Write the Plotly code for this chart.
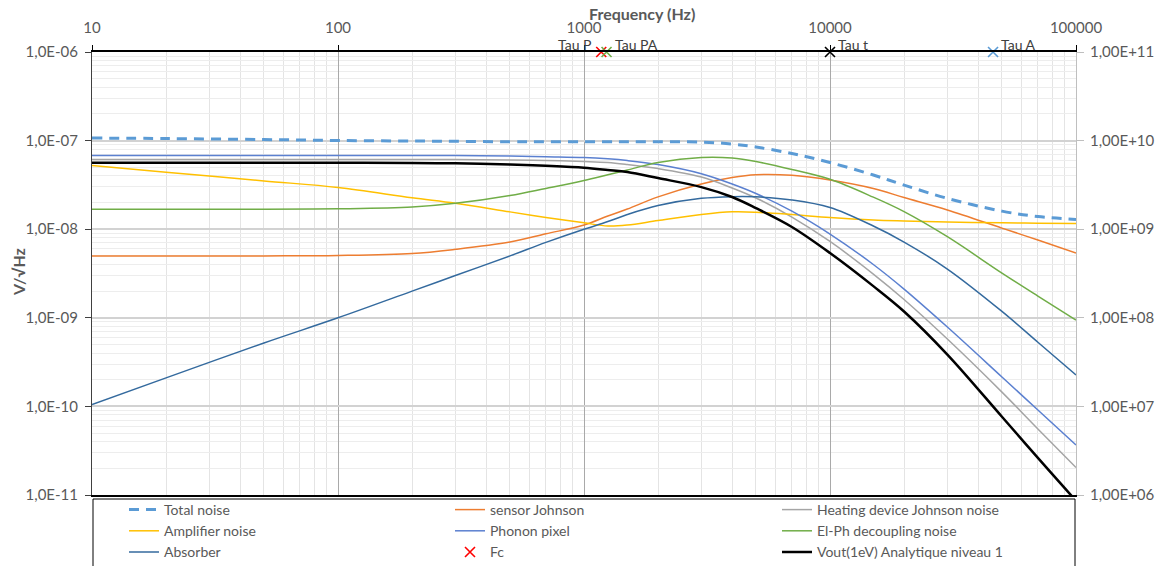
import math
import plotly.graph_objects as go

# ---------------- data ----------------
freq = [10, 20, 50, 100, 200, 300, 500, 700, 1000, 1250, 1500, 2000, 3000,
        4000, 5000, 7000, 10000, 15000, 20000, 30000, 50000, 70000, 100000]

total_noise = [1.070e-7, 1.056e-7, 1.029e-7, 1.003e-7, 9.90e-8, 9.82e-8, 9.72e-8, 9.72e-8,
               9.72e-8, 9.72e-8, 9.72e-8, 9.70e-8, 9.64e-8, 9.15e-8, 8.47e-8, 7.15e-8,
               5.66e-8, 4.09e-8, 3.15e-8, 2.23e-8, 1.60e-8, 1.39e-8, 1.29e-8]

sensor_johnson = [4.98e-9, 4.98e-9, 5.00e-9, 5.05e-9, 5.32e-9, 5.93e-9, 7.17e-9, 8.87e-9,
                  1.115e-8, 1.41e-8, 1.69e-8, 2.32e-8, 3.24e-8, 3.83e-8, 4.12e-8, 4.06e-8,
                  3.59e-8, 2.88e-8, 2.28e-8, 1.65e-8, 1.03e-8, 7.55e-9, 5.39e-9]

heating_johnson = [6.12e-8, 6.12e-8, 6.12e-8, 6.12e-8, 6.12e-8, 6.12e-8, 6.04e-8, 5.96e-8,
                   5.81e-8, 5.66e-8, 5.37e-8, 4.84e-8, 3.88e-8, 2.92e-8, 2.25e-8, 1.37e-8,
                   7.27e-9, 3.12e-9, 1.61e-9, 5.76e-10, 1.45e-10, 5.57e-11, 2.04e-11]

amplifier = [5.24e-8, 4.41e-8, 3.51e-8, 2.96e-8, 2.26e-8, 1.96e-8, 1.57e-8, 1.36e-8,
             1.18e-8, 1.087e-8, 1.115e-8, 1.254e-8, 1.465e-8, 1.57e-8, 1.556e-8, 1.465e-8,
             1.355e-8, 1.27e-8, 1.238e-8, 1.206e-8, 1.18e-8, 1.169e-8, 1.16e-8]

phonon_pixel = [6.79e-8, 6.79e-8, 6.79e-8, 6.79e-8, 6.79e-8, 6.79e-8, 6.70e-8, 6.58e-8,
                6.45e-8, 6.23e-8, 5.96e-8, 5.37e-8, 4.23e-8, 3.24e-8, 2.53e-8, 1.60e-8,
                8.83e-9, 4.00e-9, 2.11e-9, 7.87e-10, 2.15e-10, 9.11e-11, 3.67e-11]

el_ph = [1.68e-8, 1.68e-8, 1.68e-8, 1.70e-8, 1.78e-8, 1.96e-8, 2.40e-8, 2.89e-8,
         3.55e-8, 4.12e-8, 4.66e-8, 5.66e-8, 6.45e-8, 6.36e-8, 5.81e-8, 4.72e-8,
         3.66e-8, 2.30e-8, 1.58e-8, 8.23e-9, 3.20e-9, 1.76e-9, 9.44e-10]

absorber = [1.05e-10, 2.1e-10, 5.2e-10, 1.0e-9, 2.0e-9, 3.0e-9, 5.0e-9, 7.1e-9,
            1.0e-8, 1.22e-8, 1.465e-8, 1.85e-8, 2.23e-8, 2.33e-8, 2.32e-8, 2.14e-8,
            1.76e-8, 1.087e-8, 7.17e-9, 3.55e-9, 1.18e-9, 5.3e-10, 2.26e-10]

# right axis (secondary) values
vout_1ev = [5.63e9, 5.63e9, 5.63e9, 5.63e9, 5.59e9, 5.54e9, 5.37e9, 5.19e9,
            4.94e9, 4.66e9, 4.42e9, 3.78e9, 2.99e9, 2.31e9, 1.73e9, 1.06e9,
            5.39e8, 2.28e8, 1.18e8, 3.85e7, 7.65e6, 2.62e6, 8.6e5]

# characteristic frequencies (markers on the top edge)
tau_names = ["Tau P", "Tau PA", "Tau t", "Tau A"]
tau_freq = [1175, 1235, 10000, 46000]
tau_level = [1e-6, 1e-6, 1e-6, 1e-6]

x_ticks = [10, 100, 1000, 10000, 100000]
x_ticktext = ["10", "100", "1000", "10000", "100000"]
y_ticks = [1e-11, 1e-10, 1e-9, 1e-8, 1e-7, 1e-6]
y_ticktext = ["1,0E-11", "1,0E-10", "1,0E-09", "1,0E-08", "1,0E-07", "1,0E-06"]
y2_ticks = [1e6, 1e7, 1e8, 1e9, 1e10, 1e11]
y2_ticktext = ["1,00E+06", "1,00E+07", "1,00E+08", "1,00E+09", "1,00E+10", "1,00E+11"]

# ---------------- figure ----------------
FONT = "Lato, 'Open Sans', sans-serif"
fig = go.Figure()


def add_line(name, y, color, legend, width=1.5, dash=None, yaxis="y"):
    fig.add_trace(go.Scatter(
        x=freq, y=y, name=name, mode="lines", yaxis=yaxis,
        legend=legend, legendgroup=name,
        line=dict(color=color, width=width, dash=dash, shape="spline", smoothing=1.0),
    ))


add_line("Total noise", total_noise, "#5B9BD5", "legend", width=3, dash="10px,7px")
add_line("sensor Johnson", sensor_johnson, "#ED7D31", "legend2")
add_line("Heating device Johnson noise", heating_johnson, "#A5A5A5", "legend3")
add_line("Amplifier noise", amplifier, "#FFC000", "legend")
add_line("Phonon pixel", phonon_pixel, "#5B80D0", "legend2")
add_line("El-Ph decoupling noise", el_ph, "#70AD47", "legend3")
add_line("Absorber", absorber, "#346A9E", "legend")

tau_colors = ["#FF0000", "#70AD47", "#000000", "#5B9BD5"]
tau_side = ["left", "right", "right", "right"]
annotations = []
for i in range(4):
    fig.add_trace(go.Scatter(
        x=[tau_freq[i]], y=[tau_level[i]], mode="markers",
        name="Fc" if i == 0 else tau_names[i], showlegend=(i == 0),
        legend="legend2", legendgroup="Fc" if i == 0 else tau_names[i],
        marker=dict(symbol="x-thin", size=10, color=tau_colors[i],
                    line=dict(color=tau_colors[i], width=1.6)),
        cliponaxis=False,
    ))
    annotations.append(dict(
        text=tau_names[i], xref="x", yref="y",
        x=math.log10(tau_freq[i]), y=math.log10(tau_level[i]),
        xanchor="right" if tau_side[i] == "left" else "left", yanchor="middle",
        xshift=-8 if tau_side[i] == "left" else 6, yshift=8,
        showarrow=False, font=dict(family=FONT, size=14, color="#404040"),
    ))

add_line("Vout(1eV) Analytique niveau 1", vout_1ev, "#000000", "legend3", width=2.5, yaxis="y2")

W, H = 1165, 566
L, R, T, B = 92, 89, 52, 71
pw, ph = W - L - R, H - T - B


def px2x(px):
    return (px - L) / pw


def px2y(py):
    return (H - B - py) / ph


def legend_at(xpx):
    return dict(
        orientation="v", x=px2x(xpx), y=px2y(494), xanchor="left", yanchor="top",
        borderwidth=0, bgcolor="rgba(0,0,0,0)", tracegroupgap=4,
        font=dict(family=FONT, size=14, color="#595959"), traceorder="normal",
    )


annotations += [
    dict(text="<b>Frequency (Hz)</b>", xref="paper", yref="paper",
         x=px2x(642), y=px2y(14), xanchor="center", yanchor="middle",
         showarrow=False, font=dict(family=FONT, size=16, color="#595959")),
    dict(text="<b>V/\u221aHz</b>", xref="paper", yref="paper",
         x=px2x(18), y=px2y(272), xanchor="center", yanchor="middle", textangle=-90,
         showarrow=False, font=dict(family=FONT, size=16, color="#595959")),
]

fig.update_layout(
    width=W, height=H,
    margin=dict(l=L, r=R, t=T, b=B, autoexpand=False),
    paper_bgcolor="white", plot_bgcolor="white",
    font=dict(family=FONT, size=15, color="#595959"),
    xaxis=dict(
        type="log", side="top", range=[1, 5],
        tickvals=x_ticks, ticktext=x_ticktext,
        showline=True, linecolor="black", linewidth=1.5, mirror=True,
        ticks="outside", ticklen=5, tickcolor="black", ticklabelstandoff=6,
        showgrid=True, gridcolor="#A9A9A9", gridwidth=1,
        minor=dict(dtick="D1", showgrid=True, gridcolor="#E4E4E4", gridwidth=1, ticks=""),
        zeroline=False, automargin=False,
    ),
    yaxis=dict(
        type="log", range=[-11, -5.9995],
        tickvals=y_ticks, ticktext=y_ticktext,
        showline=True, linecolor="#404040", linewidth=1,
        ticks="outside", ticklen=6, tickcolor="#404040", ticklabelstandoff=4,
        showgrid=True, gridcolor="#D2D2D2", gridwidth=2,
        minor=dict(dtick="D1", showgrid=True, gridcolor="#EDEDED", gridwidth=1, ticks=""),
        zeroline=False, automargin=False,
    ),
    yaxis2=dict(
        type="log", range=[6, 11.0005], overlaying="y", side="right",
        tickvals=y2_ticks, ticktext=y2_ticktext,
        showgrid=False, showline=True, linecolor="#BFBFBF", linewidth=1,
        ticks="outside", ticklen=7, tickcolor="#BFBFBF", ticklabelstandoff=3,
        zeroline=False, automargin=False,
    ),
    legend=legend_at(124),
    legend2=legend_at(450),
    legend3=legend_at(777),
    shapes=[dict(type="rect", xref="paper", yref="paper",
                 x0=px2x(93), x1=px2x(1075), y0=px2y(575), y1=px2y(499),
                 line=dict(color="black", width=1), fillcolor="rgba(0,0,0,0)", layer="above")],
    annotations=annotations,
)

fig.write_html("out.html", config={"displayModeBar": False},
               post_script="document.body.style.margin='0';")
